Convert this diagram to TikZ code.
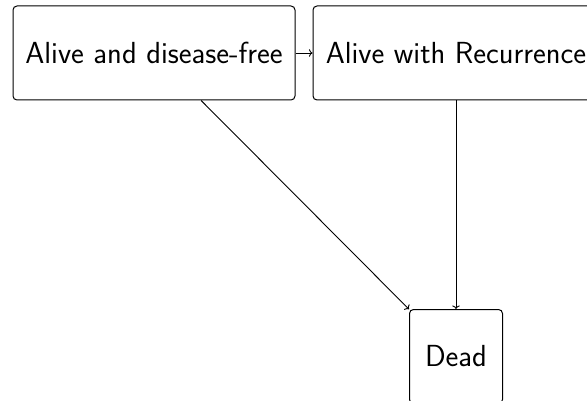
\documentclass[tikz,border=0pt]{standalone}
\usetikzlibrary{arrows.meta}
\begin{document}
\begin{tikzpicture}[x=1pt,y=-1pt,
  state/.style={draw, rounded corners=4pt, line width=1pt, minimum height=94pt, inner sep=0pt,
    font=\sffamily\fontsize{30.5}{36}\selectfont},
  conn/.style={->, line width=0.9pt}]
\useasboundingbox (0,0) rectangle (587,401);
\node[state, minimum width=282pt] (a) at (154,53) {Alive and disease-free};
\node[state, minimum width=286pt] (b) at (456,53) {Alive with Recurrence};
\node[state, minimum width=93pt] (c) at (456,356.5) {Dead};
\draw[conn] (a) -- (b);
\draw[conn] (a) -- (c);
\draw[conn] (b) -- (c);
\end{tikzpicture}
\end{document}
